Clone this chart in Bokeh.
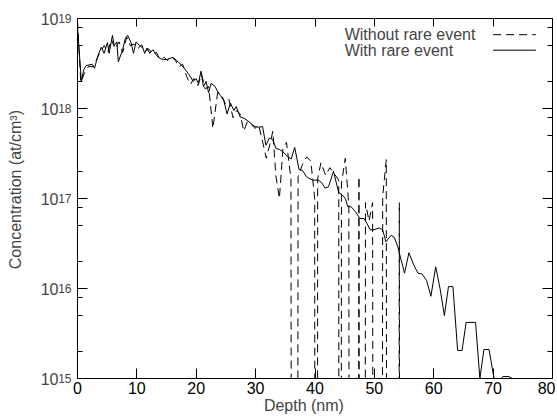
import numpy as np
from bokeh.plotting import figure
from bokeh.models import (FixedTicker, LinearAxis, LogAxis, Label, Range1d,
                          CustomJSTickFormatter)
from bokeh.embed import file_html
from bokeh.resources import INLINE

# ---------------- data ----------------
# "With rare event" (solid)
depth_with = [0.0, 0.65, 1.06, 1.45, 2.48, 2.87, 3.45, 4.01, 4.47, 5.04, 5.33, 5.89,
              6.18, 6.63, 6.87, 7.60, 8.06, 8.45, 9.02, 9.43, 9.87, 10.45, 11.02,
              11.31, 11.70, 12.16, 12.72, 13.29, 13.87, 14.43, 15.0, 16.09, 16.94,
              17.80, 18.65, 19.50, 19.95, 20.36, 20.80, 21.21, 21.66, 22.07, 22.51,
              23.19, 23.48, 24.05, 24.63, 25.19, 25.76, 26.34, 26.73, 27.36, 28.04,
              28.90, 29.86, 30.61, 31.17, 31.73, 32.31, 32.88, 33.44, 34.02, 34.59,
              35.44, 36.00, 36.58, 37.32, 37.88, 38.57, 39.15, 39.71, 40.56, 41.13,
              41.71, 42.27, 43.12, 43.98, 44.54, 45.12, 45.52, 46.08, 46.83, 47.57,
              48.25, 48.81, 49.27, 49.96, 50.81, 51.38, 51.96, 52.81, 53.37, 53.94,
              55.08, 55.82, 56.67, 57.35, 58.04, 58.79, 59.52, 60.33, 61.06, 61.79,
              62.48, 63.23, 64.02, 64.77, 65.45, 67.04, 67.77, 68.45, 69.31, 70.16,
              71.3, 71.65, 72.67, 73.2, 80.0]
conc_with = [8.0e18, 2.0e18, 2.7e18, 3.0e18, 3.1e18, 2.8e18, 3.9e18, 4.8e18, 4.1e18,
             5.4e18, 4.1e18, 6.5e18, 5.0e18, 5.5e18, 3.3e18, 4.5e18, 6.0e18, 6.5e18,
             5.4e18, 4.1e18, 5.5e18, 5.0e18, 4.7e18, 4.1e18, 4.7e18, 4.1e18, 4.5e18,
             3.9e18, 3.6e18, 3.5e18, 3.5e18, 3.7e18, 3.3e18, 2.9e18, 2.45e18, 2.0e18,
             2.15e18, 1.9e18, 2.6e18, 1.75e18, 2.0e18, 1.5e18, 1.9e18, 1.75e18, 1.6e18,
             1.4e18, 1.23e18, 8.7e17, 1.15e18, 9.5e17, 1.05e18, 8.1e17, 7.8e17, 7.1e17,
             6.3e17, 6.2e17, 6.3e17, 3.9e17, 4.7e17, 4.5e17, 3.6e17, 3.5e17, 3.3e17,
             2.9e17, 2.75e17, 3.7e17, 2.1e17, 2.05e17, 1.75e17, 1.65e17, 1.6e17, 1.6e17,
             1.5e17, 1.3e17, 1.35e17, 2.0e17, 1.17e17, 1.1e17, 1.0e17, 8.1e16, 8.1e16,
             7.1e16, 6.0e16, 6.0e16, 5.2e16, 4.5e16, 4.5e16, 4.7e16, 4.5e16, 3.3e16,
             3.9e16, 3.7e16, 2.9e16, 1.48e16, 2.5e16, 1.8e16, 1.48e16, 1.45e16, 1.23e16,
             8.2e15, 1.74e16, 1.0e16, 5.0e15, 1.05e16, 1.05e16, 2.05e15, 2.05e15, 4.2e15,
             4.2e15, 1.0e15, 2.1e15, 2.1e15, 1.0e15, 1.0e15, 1.05e15, 1.05e15, 1.0e15,
             1.0e15]

# "Without rare event" (dashed); 0 = empty bin
depth_without = [0.0, 0.55, 1.2, 1.9, 2.6, 3.2, 3.9, 4.5, 5.1, 5.7, 6.3, 7.0, 7.6, 8.3,
                 8.9, 9.5, 10.1, 10.8, 11.4, 12.0, 12.7, 13.3, 13.9, 14.6, 15.2, 15.8,
                 16.5, 17.1, 17.7, 18.4, 19.0, 19.6, 20.3, 20.9, 21.5, 22.1, 22.8, 23.6,
                 24.3, 24.9, 25.5, 26.2, 26.8, 27.4, 28.0, 28.6, 29.3, 29.9, 30.5, 31.2,
                 31.8, 32.4, 32.9, 33.4, 34.0, 34.6, 35.2, 35.95, 36.55, 37.15, 37.9,
                 38.6, 39.3, 39.95, 40.2, 40.45, 41.0, 41.8, 42.5, 43.2, 44.0,
                 44.22, 44.45, 45.1, 45.7, 46.1, 46.8, 47.4, 48.0, 48.5, 49.1,
                 49.7, 50.3, 50.8, 51.4, 52.0, 52.6, 53.6, 54.2, 54.8, 80.0]
conc_without = [9.5e18, 1.95e18, 2.5e18, 2.95e18, 2.9e18, 3.5e18, 4.3e18, 5.0e18, 4.2e18,
                5.9e18, 4.6e18, 5.5e18, 4.2e18, 6.2e18, 5.0e18, 5.2e18, 4.6e18, 5.1e18,
                4.3e18, 4.6e18, 4.0e18, 4.2e18, 3.5e18, 3.7e18, 3.4e18, 3.8e18, 3.4e18,
                2.9e18, 3.1e18, 2.25e18, 1.85e18, 2.15e18, 1.8e18, 2.4e18, 1.65e18,
                1.75e18, 6.0e17, 1.5e18, 1.4e18, 1.12e18, 1.26e18, 7.9e17, 9.5e17, 8.7e17,
                5.6e17, 7.1e17, 6.6e17, 6.0e17, 6.6e17, 4.2e17, 2.8e17, 4.0e17, 5.6e17,
                1.8e17, 1.0e17, 3.6e17, 4.2e17, 1.65e17, 0, 1.75e17, 2.4e17, 2.9e17,
                2.6e17, 1.0e17, 0, 1.65e17, 2.5e17, 1.8e17, 2.2e17, 1.9e17, 1.6e17,
                0, 1.45e17, 2.8e17, 8.3e16, 0, 0, 1.75e17, 0, 9.0e16, 5.6e16,
                9.0e16, 0, 0, 1.05e17, 2.7e17, 0, 0, 9.0e16, 0, 0]

x_ticks = [0, 10, 20, 30, 40, 50, 60, 70, 80]
y_exponents = [15, 16, 17, 18, 19]
minor_multipliers = [2, 5, 8]

legend_labels = ["Without rare event", "With rare event"]

# ---------------- styling ----------------
FONT = "Liberation Sans"
FLOOR = 1e-20  # empty bins drawn far below the axis (vertical drops)

p = figure(frame_width=475, frame_height=360, x_range=Range1d(0, 80),
           y_range=Range1d(1e15, 1e19), y_axis_type="log", output_backend="svg",
           toolbar_location=None, title=None,
           min_border_left=77, min_border_right=3, min_border_top=18,
           min_border_bottom=30)
p.xgrid.visible = False
p.ygrid.visible = False
p.outline_line_color = "black"
p.background_fill_color = "white"
p.border_fill_color = "white"

y_major = [10.0 ** e for e in y_exponents]
y_minor = [m * 10.0 ** e for e in y_exponents[:-1] for m in minor_multipliers]
exp_code = "return String(Math.round(Math.log10(tick)));"

yw = np.where(np.array(conc_without) > 0, np.array(conc_without), FLOOR)
p.line(depth_without, yw, line_color="black", line_width=1, line_dash="8 5")
p.line(depth_with, conc_with, line_color="black", line_width=1)

# bottom axis
xa = p.xaxis[0]
xa.ticker = FixedTicker(ticks=x_ticks)
xa.major_tick_in = 10
xa.major_tick_out = 0
xa.minor_tick_in = 0
xa.minor_tick_out = 0
xa.major_label_text_font = FONT
xa.major_label_text_font_size = "16px"
xa.major_label_text_color = "black"
xa.major_label_standoff = 3
xa.axis_label = "Depth (nm)" + "\u00a0" * 5
xa.axis_label_text_font = FONT
xa.axis_label_text_font_size = "16px"
xa.axis_label_text_font_style = "normal"
xa.axis_label_standoff = 0
xa.axis_line_color = "black"

# inner left axis: ticks + exponents (raised)
ya = p.yaxis[0]
ya.ticker = FixedTicker(ticks=y_major, minor_ticks=y_minor)
ya.formatter = CustomJSTickFormatter(code=exp_code)
ya.major_tick_in = 10
ya.major_tick_out = 0
ya.minor_tick_in = 5
ya.minor_tick_out = 0
ya.major_label_text_font = FONT
ya.major_label_text_font_size = "12px"
ya.major_label_text_baseline = "bottom"
ya.major_label_standoff = 6

# outer left axis: the "10" bases and the title
ya2 = LogAxis(ticker=FixedTicker(ticks=y_major),
              formatter=CustomJSTickFormatter(code="return '10';"),
              major_tick_in=0, major_tick_out=0, minor_tick_in=0, minor_tick_out=0,
              axis_line_color=None, major_tick_line_color=None,
              minor_tick_line_color=None,
              major_label_text_font=FONT, major_label_text_font_size="16px",
              major_label_standoff=-3,
              axis_label="\u00a0" * 4 + "Concentration (at/cm³)",
              axis_label_text_font=FONT, axis_label_text_font_size="16px",
              axis_label_text_font_style="normal", axis_label_standoff=14)
p.add_layout(ya2, "left")

# mirrored axes
top = LinearAxis(ticker=FixedTicker(ticks=x_ticks), major_tick_in=8, major_tick_out=0,
                 minor_tick_in=0, minor_tick_out=0, major_label_text_font_size="0px",
                 major_label_standoff=0,
                 formatter=CustomJSTickFormatter(code="return '';"))
p.add_layout(top, "above")
right = LogAxis(ticker=FixedTicker(ticks=y_major, minor_ticks=y_minor), major_tick_in=10,
                major_tick_out=0, minor_tick_in=5, minor_tick_out=0,
                major_label_text_font_size="0px", major_label_standoff=0,
                formatter=CustomJSTickFormatter(code="return '';"))
p.add_layout(right, "right")

# legend (text left, sample line right)
leg_x_text = 45.0
leg_x_line = [70.0, 77.2]
leg_y = [10 ** 18.82, 10 ** 18.648]
p.add_layout(Label(x=leg_x_text, y=leg_y[0], text=legend_labels[0], text_align="left",
                   text_baseline="middle", text_font=FONT, text_font_size="16px"))
p.add_layout(Label(x=leg_x_text, y=leg_y[1], text=legend_labels[1], text_align="left",
                   text_baseline="middle", text_font=FONT, text_font_size="16px"))
p.line(leg_x_line, [leg_y[0], leg_y[0]], line_color="black", line_width=1, line_dash="8 5")
p.line(leg_x_line, [leg_y[1], leg_y[1]], line_color="black", line_width=1)

open("out.html", "w").write(file_html(p, INLINE))
